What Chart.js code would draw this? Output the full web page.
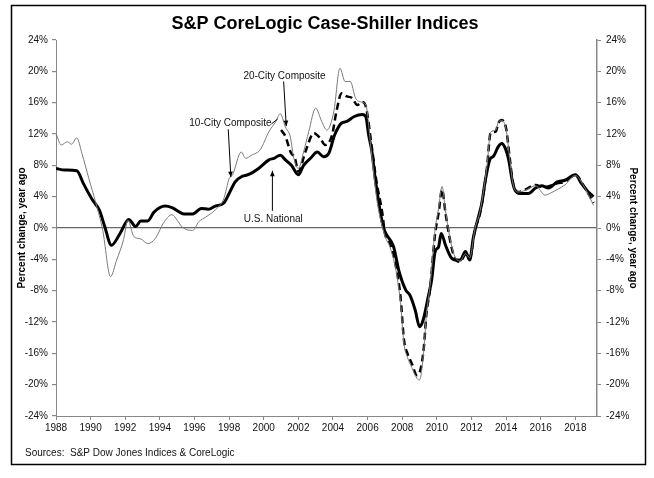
<!DOCTYPE html>
<html>
<head>
<meta charset="utf-8">
<script src="https://cdn.jsdelivr.net/npm/chart.js@4.4.1/dist/chart.umd.min.js"></script>
<style>
  body { margin: 0; background: #fff; }
  #chart { display: block; }
</style>
</head>
<body>
<canvas id="chart" width="654" height="478"></canvas>
<script>
// year-over-year % change (x = fractional year)
const nationalYears = [1988.0, 1988.5, 1989.2, 1989.6, 1990.1, 1990.5, 1990.8, 1991.2, 1991.7, 1992.2,
  1992.6, 1992.9, 1993.3, 1993.65, 1994.3, 1994.7, 1995.4, 1995.9, 1996.4, 1996.8,
  1997.2, 1997.7, 1998.0, 1998.35, 1998.75, 1999.1, 1999.7, 2000.3, 2000.6, 2000.95,
  2001.25, 2001.6, 2002.0, 2002.3, 2002.7, 2003.1, 2003.45, 2003.75, 2004.1, 2004.5,
  2004.8, 2005.2, 2005.7, 2005.9, 2006.05, 2006.25, 2006.45, 2006.9, 2007.5, 2007.8,
  2008.2, 2008.45, 2008.75, 2009.0, 2009.2, 2009.5, 2009.7, 2009.9, 2010.1, 2010.25,
  2010.5, 2010.8, 2011.05, 2011.35, 2011.65, 2011.9, 2012.1, 2012.4, 2012.6, 2012.8,
  2013.1, 2013.25, 2013.55, 2013.75, 2013.95, 2014.15, 2014.35, 2014.5, 2014.8, 2015.3,
  2015.7, 2016.05, 2016.45, 2016.95, 2017.4, 2018.0, 2018.35, 2018.75, 2019.05];
const nationalValues = [7.6, 7.4, 7.3, 5.6, 3.6, 2.3, 0.3, -2.2, -0.7, 1.1,
  0.2, 0.9, 0.9, 2.0, 2.8, 2.6, 1.8, 1.8, 2.5, 2.4,
  2.8, 3.2, 4.4, 5.9, 6.6, 6.8, 7.6, 8.7, 8.9, 9.3,
  8.7, 8.0, 6.8, 8.0, 8.9, 9.7, 9.1, 9.5, 11.9, 13.4,
  13.6, 14.2, 14.5, 14.2, 12.0, 9.7, 6.1, 0.2, -2.4, -5.4,
  -7.9, -8.6, -10.5, -12.6, -11.8, -8.8, -6.6, -3.0, -2.4, -0.7,
  -2.2, -3.7, -4.1, -4.1, -3.0, -4.1, -1.3, 1.4, 3.2, 6.1,
  8.9, 9.1, 10.4, 10.8, 10.2, 8.7, 6.1, 4.9, 4.4, 4.4,
  5.1, 5.4, 5.1, 5.9, 6.1, 6.8, 5.7, 4.6, 4.0];

const city20Years = [2001.0, 2001.25, 2001.55, 2001.8, 2002.0, 2002.4, 2002.9, 2003.25, 2003.55, 2003.95,
  2004.2, 2004.5, 2004.8, 2005.1, 2005.4, 2005.7, 2005.9, 2006.25, 2006.5, 2006.85,
  2007.0, 2007.3, 2007.6, 2007.9, 2008.1, 2008.3, 2008.55, 2008.85, 2009.05, 2009.25,
  2009.4, 2009.6, 2009.9, 2010.1, 2010.3, 2010.5, 2010.8, 2011.05, 2011.35, 2011.65,
  2011.9, 2012.2, 2012.5, 2012.9, 2013.1, 2013.4, 2013.55, 2013.75, 2014.0, 2014.2,
  2014.4, 2014.7, 2015.1, 2015.7, 2016.15, 2016.95, 2017.4, 2018.0, 2018.45, 2019.05];
const city20Values = [12.5, 11.7, 9.7, 8.9, 7.2, 9.7, 12.1, 11.5, 10.6, 11.9,
  14.9, 17.2, 16.8, 16.6, 15.7, 16.1, 15.5, 10.2, 6.1, 1.9,
  -0.7, -2.0, -4.5, -8.8, -14.3, -16.0, -17.3, -18.8, -18.1, -15.2,
  -10.9, -7.9, -0.7, 1.9, 4.9, 1.9, -2.0, -3.9, -4.3, -3.4,
  -3.9, -0.2, 1.9, 7.8, 12.1, 12.3, 13.4, 13.8, 12.7, 9.1,
  5.7, 4.6, 4.9, 5.5, 5.2, 5.7, 5.9, 6.8, 5.5, 3.2];

const city10Years = [1988.0, 1988.3, 1988.65, 1988.9, 1989.2, 1989.5, 1989.9, 1990.3, 1990.7, 1991.15,
  1991.5, 1991.9, 1992.15, 1992.5, 1992.9, 1993.3, 1993.75, 1994.2, 1994.7, 1995.0,
  1995.3, 1995.9, 1996.25, 1996.65, 1997.2, 1997.7, 1998.0, 1998.2, 1998.7, 1998.95,
  1999.3, 1999.8, 2000.3, 2000.7, 2000.95, 2001.25, 2001.55, 2001.7, 2002.0, 2002.3,
  2002.6, 2003.0, 2003.35, 2003.65, 2004.05, 2004.4, 2004.7, 2005.0, 2005.3, 2005.6,
  2005.9, 2006.2, 2006.55, 2007.0, 2007.3, 2007.6, 2007.9, 2008.1, 2008.3, 2008.55,
  2008.85, 2009.0, 2009.25, 2009.4, 2009.6, 2009.9, 2010.1, 2010.3, 2010.5, 2010.8,
  2011.05, 2011.35, 2011.65, 2011.9, 2012.2, 2012.5, 2012.9, 2013.1, 2013.4, 2013.55,
  2013.75, 2014.0, 2014.2, 2014.4, 2014.7, 2015.1, 2015.7, 2016.25, 2016.6, 2016.95,
  2017.4, 2018.0, 2018.45, 2019.05];
const city10Values = [12.1, 10.6, 11.0, 10.7, 11.5, 9.5, 6.3, 3.2, -0.3, -6.2,
  -4.1, -1.5, 1.0, -1.1, -1.4, -2.0, -1.3, 0.6, 1.7, 1.0,
  0.1, -0.3, 0.8, 1.4, 2.3, 3.8, 6.3, 6.8, 9.7, 8.9,
  9.3, 10.0, 12.3, 13.6, 14.6, 12.9, 11.5, 9.3, 7.6, 9.7,
  12.3, 15.3, 13.6, 12.5, 14.9, 20.4, 18.7, 18.7, 16.6, 16.1,
  15.7, 10.0, 3.4, -1.0, -2.5, -5.0, -9.5, -14.8, -16.5, -17.8,
  -19.2, -19.4, -15.5, -11.0, -7.5, -0.2, 2.5, 5.3, 2.2, -1.8,
  -3.7, -4.2, -3.3, -3.8, -0.1, 2.2, 8.0, 12.2, 12.5, 13.5,
  13.7, 12.6, 9.0, 5.6, 4.6, 4.8, 5.4, 4.2, 4.5, 4.9,
  5.5, 6.7, 5.5, 2.9];

const yTicks = [-24, -20, -16, -12, -8, -4, 0, 4, 8, 12, 16, 20, 24];
const xTicks = [1988, 1990, 1992, 1994, 1996, 1998, 2000, 2002, 2004, 2006, 2008, 2010, 2012, 2014, 2016, 2018];

const FONT = '"Liberation Sans", Arial, sans-serif';

function toPoints(xs, ys) {
  return xs.map((x, i) => ({ x: x, y: ys[i] }));
}

// callouts anchored in data coordinates: [year, value]
const callouts = [
  { text: '20-City Composite', at: [2001.2, 19.4], align: 'center', line: [[2001.15, 18.7], [2001.3, 13.0]], head: true },
  { text: '10-City Composite', at: [2000.45, 13.4], align: 'right', line: [[1997.95, 12.6], [1998.1, 6.5]], head: true },
  { text: '', at: null, line: [[2000.45, 13.3], [2000.8, 13.9]], head: false },
  { text: 'U.S. National', at: [2000.55, 1.15], align: 'center', line: [[2000.5, 2.2], [2000.5, 7.3]], head: true }
];

const decorations = {
  id: 'decorations',
  afterDraw(chart) {
    const ctx = chart.ctx;
    const xs = chart.scales.x, ys = chart.scales.y;
    ctx.save();

    // outer frame
    ctx.strokeStyle = '#000';
    ctx.lineWidth = 1.5;
    ctx.strokeRect(11.5, 5.5, 634, 459);

    // title
    ctx.fillStyle = '#000';
    ctx.font = 'bold 18px ' + FONT;
    ctx.textAlign = 'center';
    ctx.textBaseline = 'alphabetic';
    ctx.fillText('S&P CoreLogic Case-Shiller Indices', 325, 29);

    // source note
    ctx.font = '10px ' + FONT;
    ctx.textAlign = 'left';
    ctx.textBaseline = 'middle';
    ctx.fillStyle = '#111';
    ctx.fillText('Sources:  S&P Dow Jones Indices & CoreLogic', 25, 453);

    // callouts
    callouts.forEach(c => {
      if (c.text) {
        ctx.textAlign = c.align;
        ctx.fillText(c.text, xs.getPixelForValue(c.at[0]), ys.getPixelForValue(c.at[1]));
      }
      const x1 = xs.getPixelForValue(c.line[0][0]), y1 = ys.getPixelForValue(c.line[0][1]);
      const x2 = xs.getPixelForValue(c.line[1][0]), y2 = ys.getPixelForValue(c.line[1][1]);
      ctx.strokeStyle = '#000';
      ctx.lineWidth = 1;
      ctx.beginPath();
      ctx.moveTo(x1, y1);
      ctx.lineTo(x2, y2);
      ctx.stroke();
      if (c.head) {
        const a = Math.atan2(y2 - y1, x2 - x1);
        ctx.beginPath();
        ctx.moveTo(x2, y2);
        ctx.lineTo(x2 - 6 * Math.cos(a - 0.4), y2 - 6 * Math.sin(a - 0.4));
        ctx.lineTo(x2 - 6 * Math.cos(a + 0.4), y2 - 6 * Math.sin(a + 0.4));
        ctx.closePath();
        ctx.fillStyle = '#000';
        ctx.fill();
        ctx.fillStyle = '#111';
      }
    });
    ctx.restore();
  }
};

const yTitle = {
  display: true,
  text: 'Percent change, year ago',
  color: '#000',
  font: { family: FONT, size: 10, weight: 'bold' }
};

const config = {
  type: 'line',
  data: {
    datasets: [
      {
        label: '10-City Composite',
        data: toPoints(city10Years, city10Values),
        borderColor: '#7a7a7a',
        borderWidth: 1,
        pointRadius: 0,
        cubicInterpolationMode: 'monotone'
      },
      {
        label: '20-City Composite',
        data: toPoints(city20Years, city20Values),
        borderColor: '#000',
        borderWidth: 2.5,
        borderDash: [7, 4],
        pointRadius: 0,
        cubicInterpolationMode: 'monotone'
      },
      {
        label: 'U.S. National',
        data: toPoints(nationalYears, nationalValues),
        borderColor: '#000',
        borderWidth: 3,
        pointRadius: 0,
        cubicInterpolationMode: 'monotone'
      }
    ]
  },
  options: {
    responsive: false,
    animation: false,
    events: [],
    layout: { padding: { top: 40, left: 0, right: 0, bottom: 0 } },
    plugins: { legend: { display: false }, title: { display: false }, tooltip: { enabled: false } },
    scales: {
      x: {
        type: 'linear',
        min: 1988,
        max: 2019.25,
        afterBuildTicks: s => { s.ticks = xTicks.map(v => ({ value: v })); },
        afterFit: s => { s.height = 62; },
        ticks: {
          color: '#111',
          font: { family: FONT, size: 10 },
          padding: 2,
          maxRotation: 0,
          autoSkip: false,
          callback: v => String(v)
        },
        grid: { drawOnChartArea: false, tickLength: 4, tickColor: '#888' },
        border: { color: '#888', width: 1 }
      },
      y: {
        position: 'left',
        min: -24,
        max: 24,
        afterBuildTicks: s => { s.ticks = yTicks.map(v => ({ value: v })); },
        afterFit: s => { s.width = 56; },
        ticks: {
          color: '#111',
          font: { family: FONT, size: 10 },
          padding: 4,
          callback: v => v + '%'
        },
        grid: {
          color: c => (c.tick && c.tick.value === 0 ? '#666' : 'rgba(0,0,0,0)'),
          lineWidth: 1.2,
          tickLength: 4,
          tickColor: '#888'
        },
        border: { color: '#888', width: 1 },
        title: Object.assign({ padding: { top: 16, bottom: 0 } }, yTitle)
      },
      y2: {
        position: 'right',
        min: -24,
        max: 24,
        afterBuildTicks: s => { s.ticks = yTicks.map(v => ({ value: v })); },
        afterFit: s => { s.width = 57; },
        ticks: {
          color: '#111',
          font: { family: FONT, size: 10 },
          padding: 5,
          callback: v => v + '%'
        },
        grid: { drawOnChartArea: false, tickLength: 4, tickColor: '#888' },
        border: { color: '#888', width: 1.5 },
        title: Object.assign({ padding: { top: 15, bottom: 0 } }, yTitle)
      }
    }
  },
  plugins: [decorations]
};

const myChart = new Chart(document.getElementById('chart'), config);
</script>
</body>
</html>
